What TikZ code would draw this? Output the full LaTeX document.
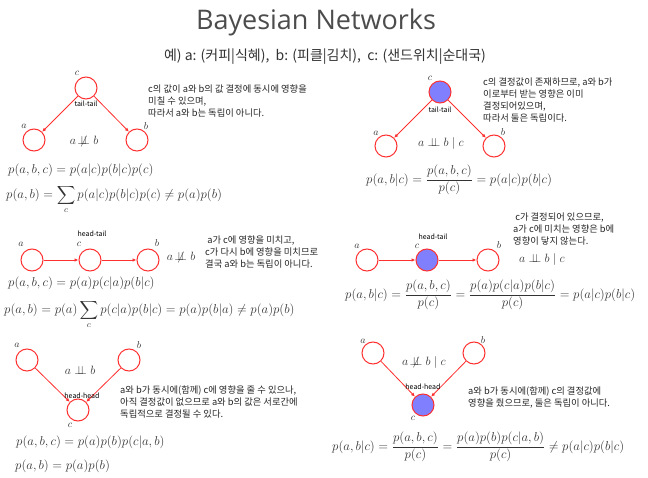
\documentclass[tikz,border=0pt]{standalone}
\usepackage{amsmath,amssymb}
\usepackage{fontspec}
\newfontfamily\kr{Noto Sans CJK KR}
\newfontfamily\titlefont{Open Sans}
\usetikzlibrary{arrows.meta}
\definecolor{nodered}{HTML}{FF3030}
\definecolor{nodeblue}{HTML}{8080FF}
\definecolor{inkgray}{HTML}{333333}
\newcommand{\indep}{\mathrel{\perp\!\!\!\perp}}
\newcommand{\nindep}{\mathrel{\not\!\perp\!\!\!\perp}}
\tikzset{
  var/.style={circle, draw=nodered, line width=1pt, fill=white, minimum size=22pt, inner sep=0pt},
  obs/.style={var, fill=nodeblue},
  edge/.style={draw=nodered, line width=0.8pt, -{Latex[length=4pt,width=3.5pt]}},
  lbl/.style={inner sep=0pt, text=inkgray, font=\fontsize{10}{12}\selectfont},
  kind/.style={inner sep=0pt, font=\kr\fontsize{7}{8}\selectfont},
  note/.style={inner sep=0pt, anchor=north west, align=left, text=black!85,
               font=\kr\fontsize{9.3}{12}\selectfont},
  eq/.style={inner sep=0pt, anchor=west, text=inkgray, font=\fontsize{12}{14}\selectfont,
             scale=1.07, transform shape},
  rel/.style={inner sep=0pt, text=inkgray, font=\fontsize{12}{14}\selectfont}
}
\begin{document}
\begin{tikzpicture}[x=1pt,y=-1pt]
\useasboundingbox[fill=white] (0,0) rectangle (648,478);

% heading
\node[text=black!70, font=\titlefont\fontsize{27}{30}\selectfont] (title) at (316,22) {Bayesian Networks};
\node[text=black!80, font=\kr\fontsize{14}{16}\selectfont] (sub) at (325,57)
  {예) a: (커피|식혜),\ \ b: (피클|김치),\ \ c: (샌드위치|순대국)};

% ---- tail-tail, c unobserved
\node[var] (c1) at (86,88) {};
\node[var] (a1) at (34,140) {};
\node[var] (b1) at (137,140) {};
\draw[edge] (c1) -- (a1);
\draw[edge] (c1) -- (b1);
\node[lbl] (lc1) at (77,73) {$c$};
\node[lbl] (la1) at (24,126) {$a$};
\node[lbl] (lb1) at (146,126) {$b$};
\node[kind] (k1) at (86,104) {tail-tail};
\node[rel] (r1) at (84,142) {$a\nindep b$};
\node[note] (n1) at (148,85) {c의 값이 a와 b의 값 결정에 동시에 영향을\\미칠 수 있으며,\\따라서 a와 b는 독립이 아니다.};
\node[eq] (e1a) at (8,170) {$p(a,b,c)=p(a|c)p(b|c)p(c)$};
\node[eq] (e1b) at (6,199.5) {$p(a,b)=\displaystyle\sum_c p(a|c)p(b|c)p(c)\neq p(a)p(b)$};

% ---- tail-tail, c observed
\node[obs] (c2) at (440,92) {};
\node[var] (a2) at (386,146) {};
\node[var] (b2) at (494,146) {};
\draw[edge] (c2) -- (a2);
\draw[edge] (c2) -- (b2);
\node[lbl] (lc2) at (430,78) {$c$};
\node[lbl] (la2) at (376,133) {$a$};
\node[lbl] (lb2) at (503,132) {$b$};
\node[kind] (k2) at (440,110) {tail-tail};
\node[rel] (r2) at (441,144) {$a\indep b\mid c$};
\node[note] (n2) at (483,78) {c의 결정값이 존재하므로, a와 b가\\이로부터 받는 영향은 이미\\결정되어있으며,\\따라서 둘은 독립이다.};
\node[eq] (e2) at (366,180) {$p(a,b|c)=\dfrac{p(a,b,c)}{p(c)}=p(a|c)p(b|c)$};

% ---- head-tail, c unobserved
\node[var] (a3) at (32,260) {};
\node[var] (c3) at (90,260) {};
\node[var] (b3) at (148,260) {};
\draw[edge] (a3) -- (c3);
\draw[edge] (c3) -- (b3);
\node[lbl] (la3) at (21,244) {$a$};
\node[lbl] (lc3) at (79,244) {$c$};
\node[lbl] (lb3) at (157,243) {$b$};
\node[kind] (k3) at (92,234) {head-tail};
\node[rel] (r3) at (181,258) {$a\nindep b$};
\node[note] (n3) at (205,236) {\ a가 c에 영향을 미치고,\\c가 다시 b에 영향을 미치므로\\결국 a와 b는 독립이 아니다.};
\node[eq] (e3a) at (8,283) {$p(a,b,c)=p(a)p(c|a)p(b|c)$};
\node[eq] (e3b) at (4,314.5) {$p(a,b)=p(a)\displaystyle\sum_c p(c|a)p(b|c)=p(a)p(b|a)\neq p(a)p(b)$};

% ---- head-tail, c observed
\node[var] (a4) at (367,260) {};
\node[obs] (c4) at (427,260) {};
\node[var] (b4) at (488,260) {};
\draw[edge] (a4) -- (c4);
\draw[edge] (c4) -- (b4);
\node[lbl] (la4) at (357,246) {$a$};
\node[lbl] (lc4) at (417,246) {$c$};
\node[lbl] (lb4) at (499,245) {$b$};
\node[kind] (k4) at (433,237) {head-tail};
\node[rel] (r4) at (542,260) {$a\indep b\mid c$};
\node[note] (n4) at (513,213) {\ c가 결정되어 있으므로,\\a가 c에 미치는 영향은 b에\\영향이 닿지 않는다.};
\node[eq] (e4) at (345,295) {$p(a,b|c)=\dfrac{p(a,b,c)}{p(c)}=\dfrac{p(a)p(c|a)p(b|c)}{p(c)}=p(a|c)p(b|c)$};

% ---- head-head, c unobserved
\node[var] (a5) at (27,360) {};
\node[var] (b5) at (129,360) {};
\node[var] (c5) at (78,410) {};
\draw[edge] (a5) -- (c5);
\draw[edge] (b5) -- (c5);
\node[lbl] (la5) at (17,345) {$a$};
\node[lbl] (lb5) at (139,345) {$b$};
\node[lbl] (lc5) at (70,425) {$c$};
\node[kind] (k5) at (82,396) {head-head};
\node[rel] (r5) at (80,370) {$a\indep b$};
\node[note] (n5) at (120,386) {a와 b가 동시에(함께) c에 영향을 줄 수 있으나,\\아직 결정값이 없으므로 a와 b의 값은 서로간에\\독립적으로 결정될 수 있다.};
\node[eq] (e5a) at (16,442) {$p(a,b,c)=p(a)p(b)p(c|a,b)$};
\node[eq] (e5b) at (15,466) {$p(a,b)=p(a)p(b)$};

% ---- head-head, c observed
\node[var] (a6) at (373,353) {};
\node[var] (b6) at (474,353) {};
\node[obs] (c6) at (423,405) {};
\draw[edge] (a6) -- (c6);
\draw[edge] (b6) -- (c6);
\node[lbl] (la6) at (363,341) {$a$};
\node[lbl] (lb6) at (483,340) {$b$};
\node[lbl] (lc6) at (413,418) {$c$};
\node[kind] (k6) at (423,387) {head-head};
\node[rel] (r6) at (424,363) {$a\nindep b\mid c$};
\node[note] (n6) at (468,387) {a와 b가 동시에(함께) c의 결정값에\\영향을 줬으므로, 둘은 독립이 아니다.};
\node[eq] (e6) at (332,447) {$p(a,b|c)=\dfrac{p(a,b,c)}{p(c)}=\dfrac{p(a)p(b)p(c|a,b)}{p(c)}\neq p(a|c)p(b|c)$};
\end{tikzpicture}
\end{document}
